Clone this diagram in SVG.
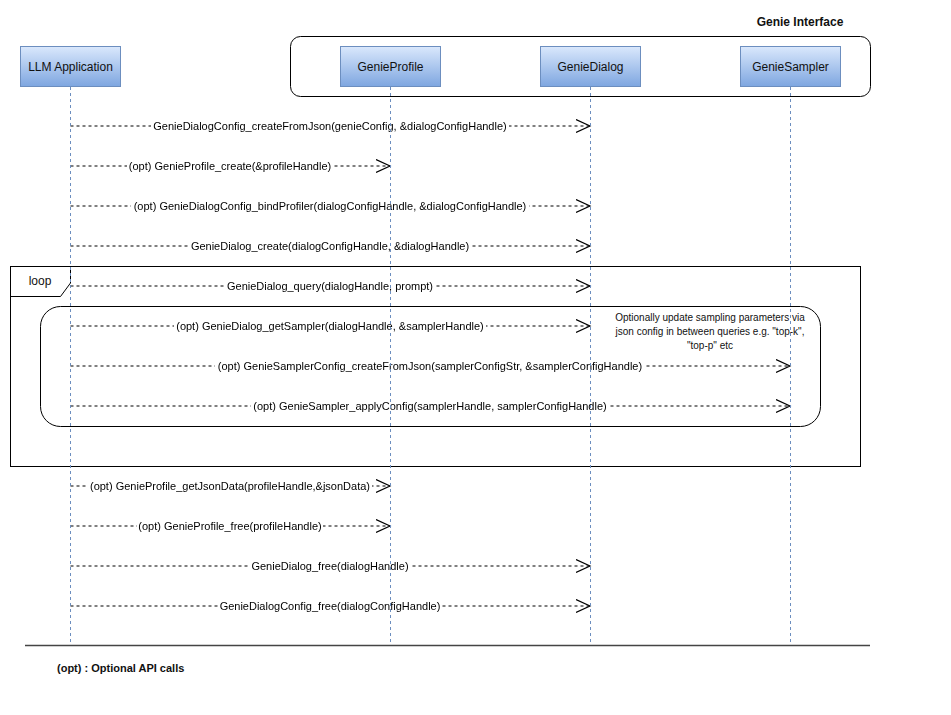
<svg xmlns="http://www.w3.org/2000/svg" width="951" height="715" viewBox="0 0 951 715">
<style>
text{font-family:"Liberation Sans",Arial,sans-serif;fill:#111}
.lbl{font-size:11px;text-anchor:middle;fill:#000}
.box{fill:url(#g);stroke:#6c8ebf;stroke-width:1}
.bt{font-size:12px;text-anchor:middle}
.life{stroke:#6c8ebf;stroke-width:1;stroke-dasharray:3 3;fill:none}
.msg{stroke:#000;stroke-width:1;stroke-dasharray:3 3;fill:none}
.ah{stroke:#000;stroke-width:1.2;fill:none}
.frame{stroke:#000;stroke-width:1;fill:none}
</style>
<defs>
<linearGradient id="g" x1="0" y1="0" x2="0" y2="1">
<stop offset="0" stop-color="#dae8fc"/>
<stop offset="1" stop-color="#7ea6e0"/>
</linearGradient>
<filter id="bg" x="-0.005" y="0" width="1.01" height="1" color-interpolation-filters="sRGB">
<feFlood flood-color="#fff"/>
<feComposite in="SourceGraphic" operator="over"/>
</filter>
<marker id="arr" markerWidth="16" markerHeight="16" refX="14" refY="7" orient="auto" markerUnits="userSpaceOnUse">
<polyline points="0,0.5 14,7 0,13.5" class="ah"/>
</marker>
</defs>
<rect width="951" height="715" fill="#fff"/>

<g id="genie-interface">
<rect x="290.5" y="36.5" width="580" height="60" rx="10" class="frame"/>
<text x="800" y="26" style="font-size:12px;font-weight:bold;text-anchor:middle">Genie Interface</text>
</g>

<g id="loop-frame">
<rect x="10.5" y="266.5" width="850" height="200" class="frame"/>
<polyline points="10.5,296.5 60.5,296.5 70.5,283 70.5,266.5" class="frame"/>
<text x="40" y="285" style="font-size:12px;text-anchor:middle">loop</text>
</g>

<g id="sampler-group">
<rect x="40.5" y="306.5" width="780" height="120" rx="20" class="frame"/>
<text x="710" y="321" style="font-size:10px;text-anchor:middle">Optionally update sampling parameters via</text>
<text x="710" y="335" style="font-size:10px;text-anchor:middle">json config in between queries e.g. "top-k",</text>
<text x="710" y="349" style="font-size:10px;text-anchor:middle">"top-p" etc</text>
</g>

<g id="connectors">
<line x1="70.5" y1="126" x2="590" y2="126" class="msg" marker-end="url(#arr)"/>
<text x="330" y="130" class="lbl" filter="url(#bg)">GenieDialogConfig_createFromJson(genieConfig, &amp;dialogConfigHandle)</text>
<line x1="70.5" y1="166" x2="390" y2="166" class="msg" marker-end="url(#arr)"/>
<text x="230" y="170" class="lbl" filter="url(#bg)">(opt) GenieProfile_create(&amp;profileHandle)</text>
<line x1="70.5" y1="206" x2="590" y2="206" class="msg" marker-end="url(#arr)"/>
<text x="330" y="210" class="lbl" filter="url(#bg)">(opt) GenieDialogConfig_bindProfiler(dialogConfigHandle, &amp;dialogConfigHandle)</text>
<line x1="70.5" y1="246" x2="590" y2="246" class="msg" marker-end="url(#arr)"/>
<text x="330" y="250" class="lbl" filter="url(#bg)">GenieDialog_create(dialogConfigHandle, &amp;dialogHandle)</text>
<line x1="70.5" y1="286" x2="590" y2="286" class="msg" marker-end="url(#arr)"/>
<text x="330" y="290" class="lbl" filter="url(#bg)">GenieDialog_query(dialogHandle, prompt)</text>
<line x1="70.5" y1="326" x2="590" y2="326" class="msg" marker-end="url(#arr)"/>
<text x="330" y="330" class="lbl" filter="url(#bg)">(opt) GenieDialog_getSampler(dialogHandle, &amp;samplerHandle)</text>
<line x1="70.5" y1="366" x2="790" y2="366" class="msg" marker-end="url(#arr)"/>
<text x="430" y="370" class="lbl" filter="url(#bg)">(opt) GenieSamplerConfig_createFromJson(samplerConfigStr, &amp;samplerConfigHandle)</text>
<line x1="70.5" y1="406" x2="790" y2="406" class="msg" marker-end="url(#arr)"/>
<text x="430" y="410" class="lbl" filter="url(#bg)">(opt) GenieSampler_applyConfig(samplerHandle, samplerConfigHandle)</text>
<line x1="70.5" y1="486" x2="390" y2="486" class="msg" marker-end="url(#arr)"/>
<text x="230" y="490" class="lbl" filter="url(#bg)">(opt) GenieProfile_getJsonData(profileHandle,&amp;jsonData)</text>
<line x1="70.5" y1="526" x2="390" y2="526" class="msg" marker-end="url(#arr)"/>
<text x="230" y="530" class="lbl" filter="url(#bg)">(opt) GenieProfile_free(profileHandle)</text>
<line x1="70.5" y1="566" x2="590" y2="566" class="msg" marker-end="url(#arr)"/>
<text x="330" y="570" class="lbl" filter="url(#bg)">GenieDialog_free(dialogHandle)</text>
<line x1="70.5" y1="606" x2="590" y2="606" class="msg" marker-end="url(#arr)"/>
<text x="330" y="610" class="lbl" filter="url(#bg)">GenieDialogConfig_free(dialogConfigHandle)</text>
</g>

<g id="lifelines">
<line x1="70.5" y1="87" x2="70.5" y2="645" class="life"/>
<line x1="390.5" y1="87" x2="390.5" y2="645" class="life"/>
<line x1="590.5" y1="87" x2="590.5" y2="645" class="life"/>
<line x1="790.5" y1="87" x2="790.5" y2="645" class="life"/>
</g>

<g id="llm-application">
<rect x="20.5" y="46.5" width="100" height="40" class="box"/>
<text x="70.5" y="70.5" class="bt">LLM Application</text>
</g>
<g id="genie-profile">
<rect x="340.5" y="46.5" width="100" height="40" class="box"/>
<text x="390.5" y="70.5" class="bt">GenieProfile</text>
</g>
<g id="genie-dialog">
<rect x="540.5" y="46.5" width="100" height="40" class="box"/>
<text x="590.5" y="70.5" class="bt">GenieDialog</text>
</g>
<g id="genie-sampler">
<rect x="740.5" y="46.5" width="100" height="40" class="box"/>
<text x="790.5" y="70.5" class="bt">GenieSampler</text>
</g>

<g id="legend">
<line x1="25" y1="645.5" x2="870" y2="645.5" stroke="#444" stroke-width="1.5"/>
<text x="57" y="672" style="font-size:11px;font-weight:bold">(opt) : Optional API calls</text>
</g>
</svg>
